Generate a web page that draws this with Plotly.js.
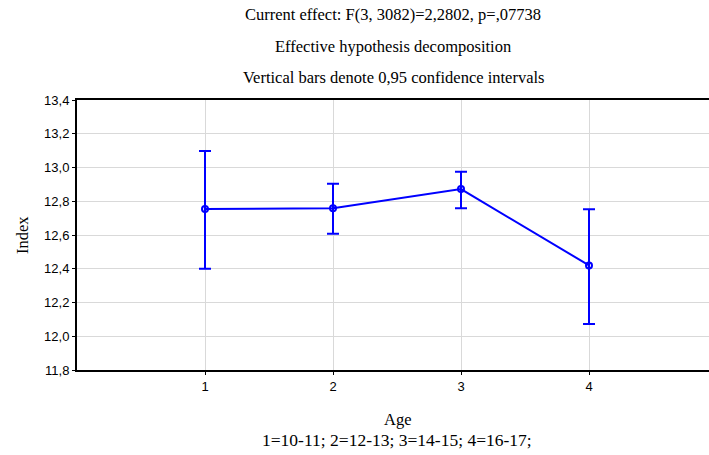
<!DOCTYPE html>
<html>
<head>
<meta charset="utf-8">
<script src="https://cdn.plot.ly/plotly-3.0.1.min.js"></script>
<style>html,body{margin:0;padding:0;overflow:hidden;background:#fff;}</style>
</head>
<body>
<div id="chart"></div>
<script>
// Data
const ageGroups = [1, 2, 3, 4];
const means = [12.754, 12.758, 12.872, 12.42];
const upperCI = [13.098, 12.904, 12.975, 12.752];
const lowerCI = [12.40, 12.608, 12.758, 12.072];
const yTicks = [11.8, 12.0, 12.2, 12.4, 12.6, 12.8, 13.0, 13.2, 13.4];

const errPlus = means.map((m, i) => upperCI[i] - m);
const errMinus = means.map((m, i) => m - lowerCI[i]);

const serif = 'Liberation Serif, Times New Roman, serif';
const sans = 'Liberation Sans, Arial, sans-serif';

const trace = {
  x: ageGroups,
  y: means,
  type: 'scatter',
  mode: 'lines+markers',
  line: {color: '#0000ff', width: 2},
  marker: {symbol: 'circle-open', size: 6, color: '#0000ff', line: {width: 2, color: '#0000ff'}},
  error_y: {type: 'data', symmetric: false, array: errPlus, arrayminus: errMinus,
            color: '#0000ff', thickness: 2, width: 6},
  hoverinfo: 'none'
};

const layout = {
  width: 760, height: 455,
  margin: {l: 77, r: 43, t: 100, b: 85},
  paper_bgcolor: '#fff', plot_bgcolor: '#fff',
  separators: ',.',
  showlegend: false,
  xaxis: {
    range: [0, 5], tickvals: ageGroups, ticktext: ageGroups.map(String),
    showgrid: true, gridcolor: '#d9d9d9', gridwidth: 1,
    showline: true, linecolor: '#000', linewidth: 2, mirror: true,
    ticks: 'outside', ticklen: 3, tickcolor: '#000', tickwidth: 1,
    tickfont: {family: sans, size: 13, color: '#000'}, zeroline: false
  },
  yaxis: {
    range: [11.8, 13.4], tickvals: yTicks, tickformat: '.1f',
    showgrid: true, gridcolor: '#d9d9d9', gridwidth: 1,
    showline: true, linecolor: '#000', linewidth: 2, mirror: true,
    ticks: 'outside', ticklen: 3, tickcolor: '#000', tickwidth: 1,
    tickfont: {family: sans, size: 13, color: '#000'}, zeroline: false
  },
  annotations: [
    {text: 'Current effect: F(3, 3082)=2,2802, p=,07738', xref: 'paper', yref: 'paper', x: 0.494, y: 1.3185, showarrow: false, xanchor: 'center', yanchor: 'middle', font: {family: serif, size: 16.5, color: '#000'}},
    {text: 'Effective hypothesis decomposition', xref: 'paper', yref: 'paper', x: 0.494, y: 1.2, showarrow: false, xanchor: 'center', yanchor: 'middle', font: {family: serif, size: 16.5, color: '#000'}},
    {text: 'Vertical bars denote 0,95 confidence intervals', xref: 'paper', yref: 'paper', x: 0.494, y: 1.0815, showarrow: false, xanchor: 'center', yanchor: 'middle', font: {family: serif, size: 16.5, color: '#000'}},
    {text: 'Index', xref: 'paper', yref: 'paper', x: -0.0859, y: 0.5, textangle: -90, showarrow: false, xanchor: 'center', yanchor: 'middle', font: {family: serif, size: 16.5, color: '#000'}},
    {text: 'Age', xref: 'paper', yref: 'paper', x: 0.502, y: -0.185, showarrow: false, xanchor: 'center', yanchor: 'middle', font: {family: serif, size: 16.5, color: '#000'}},
    {text: '1=10-11; 2=12-13; 3=14-15; 4=16-17;', xref: 'paper', yref: 'paper', x: 0.5, y: -0.259, showarrow: false, xanchor: 'center', yanchor: 'middle', font: {family: serif, size: 17.5, color: '#000'}}
  ]
};

Plotly.newPlot('chart', [trace], layout, {displayModeBar: false, staticPlot: true});
</script>
</body>
</html>
